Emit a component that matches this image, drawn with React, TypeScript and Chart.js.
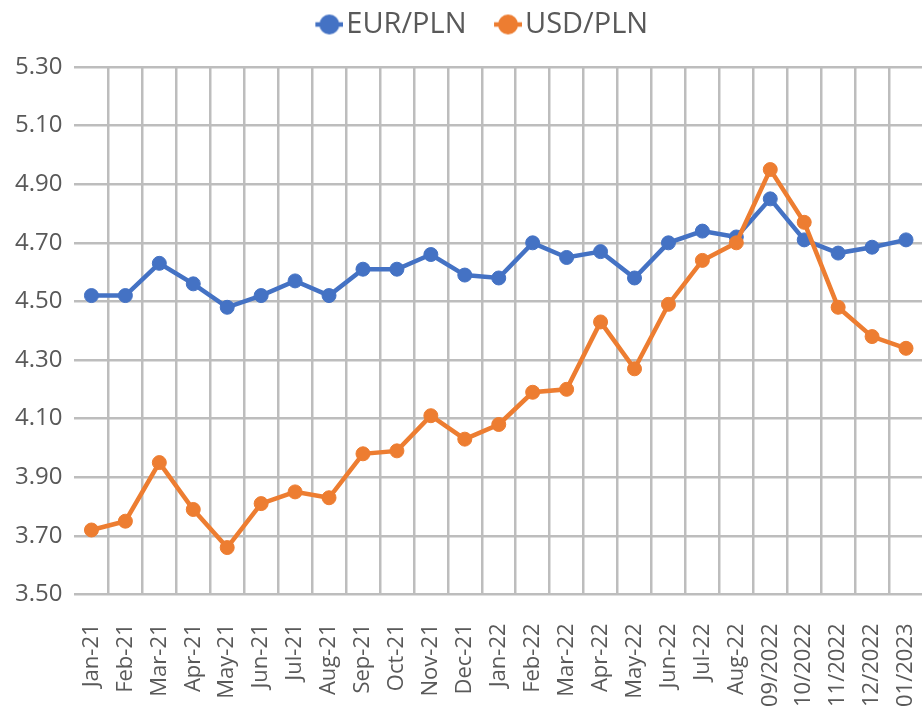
import React, { useEffect, useRef } from 'react';
import { Chart, registerables } from 'chart.js';

Chart.register(...registerables);

const categories = [
  'Jan-21', 'Feb-21', 'Mar-21', 'Apr-21', 'May-21', 'Jun-21', 'Jul-21', 'Aug-21',
  'Sep-21', 'Oct-21', 'Nov-21', 'Dec-21', 'Jan-22', 'Feb-22', 'Mar-22', 'Apr-22',
  'May-22', 'Jun-22', 'Jul-22', 'Aug-22', '09/2022', '10/2022', '11/2022', '12/2022', '01/2023',
];

const eurPln = [
  4.52, 4.52, 4.63, 4.56, 4.48, 4.52, 4.57, 4.52, 4.61, 4.61, 4.66, 4.59, 4.58,
  4.70, 4.65, 4.67, 4.58, 4.70, 4.74, 4.72, 4.85, 4.71, 4.665, 4.685, 4.71,
];

const usdPln = [
  3.72, 3.75, 3.95, 3.79, 3.66, 3.81, 3.85, 3.83, 3.98, 3.99, 4.11, 4.03, 4.08,
  4.19, 4.20, 4.43, 4.27, 4.49, 4.64, 4.70, 4.95, 4.77, 4.48, 4.38, 4.34,
];

const seriesLabels = ['EUR/PLN', 'USD/PLN'];
const yMin = 3.5;
const yMax = 5.3;
const yStep = 0.2;

const BLUE = '#4472C4';
const ORANGE = '#ED7D31';
const GRID = '#bdbdbd';
const TEXT = '#595959';
const FONT = "'Open Sans', 'Noto Sans', sans-serif";

const LEGEND_BOX_W = 30;
const LEGEND_IMG_W = 53;

function makeMarker(color: string): HTMLCanvasElement {
  // transparent image; the visible marker (28px) sits at its right end
  const c = document.createElement('canvas');
  c.width = LEGEND_IMG_W;
  c.height = 24;
  const g = c.getContext('2d')!;
  const x0 = LEGEND_IMG_W - 28;
  g.strokeStyle = color;
  g.lineWidth = 4.5;
  g.beginPath();
  g.moveTo(x0, 12);
  g.lineTo(x0 + 28, 12);
  g.stroke();
  g.fillStyle = color;
  g.beginPath();
  g.arc(x0 + 14, 12, 10, 0, Math.PI * 2);
  g.fill();
  return c;
}

export default function App() {
  const ref = useRef<HTMLCanvasElement>(null);

  useEffect(() => {
    if (!ref.current) return;
    const markers = [makeMarker(BLUE), makeMarker(ORANGE)];
    const colors = [BLUE, ORANGE];

    const shiftLegend = {
      id: 'shiftLegend',
      afterLayout(chart: any) {
        const lg = chart.legend;
        if (lg) {
          lg.left += 12;
          lg.right += 12;
          lg.top -= 18;
          lg.bottom -= 18;
        }
      },
    };

    const chart = new Chart(ref.current, {
      type: 'line',
      data: {
        labels: categories,
        datasets: [
          {
            label: seriesLabels[0],
            data: eurPln,
            borderColor: BLUE,
            backgroundColor: BLUE,
            borderWidth: 4.5,
            pointRadius: 7,
            pointBorderWidth: 1,
            pointBackgroundColor: BLUE,
            pointBorderColor: BLUE,
            tension: 0,
            order: 2,
          },
          {
            label: seriesLabels[1],
            data: usdPln,
            borderColor: ORANGE,
            backgroundColor: ORANGE,
            borderWidth: 4.5,
            pointRadius: 7,
            pointBorderWidth: 1,
            pointBackgroundColor: ORANGE,
            pointBorderColor: ORANGE,
            tension: 0,
            order: 1,
          },
        ],
      },
      options: {
        animation: false,
        responsive: true,
        maintainAspectRatio: false,
        layout: { autoPadding: false, padding: { left: 3, right: 1, top: 14, bottom: 7 } },
        plugins: {
          tooltip: { enabled: false },
          legend: {
            position: 'top',
            labels: {
              usePointStyle: true,
              pointStyleWidth: LEGEND_BOX_W,
              boxHeight: 24,
              padding: 14,
              color: TEXT,
              font: { family: FONT, size: 29 },
              generateLabels: () =>
                seriesLabels.map((t, i) => ({
                  text: t,
                  pointStyle: markers[i] as any,
                  fillStyle: colors[i],
                  strokeStyle: colors[i],
                  lineWidth: 0,
                  hidden: false,
                  datasetIndex: i,
                  fontColor: TEXT,
                })),
            },
          },
        },
        scales: {
          x: {
            offset: true,
            border: { display: false },
            afterFit: (s: any) => {
              s.paddingLeft = 0;
              s.paddingRight = 0;
              s.height = s.height - s.options.ticks.padding;
            },
            grid: {
              offset: true,
              drawTicks: false,
              lineWidth: 2.5,
              color: (ctx: any) => (ctx.index === 0 ? 'rgba(0,0,0,0)' : GRID),
            },
            ticks: {
              autoSkip: false,
              maxRotation: 90,
              minRotation: 90,
              padding: 29,
              color: TEXT,
              font: { family: FONT, size: 22 },
            },
          },
          y: {
            min: yMin,
            max: yMax,
            border: { display: false },
            grid: { drawTicks: false, lineWidth: 2.5, color: GRID },
            ticks: {
              stepSize: yStep,
              padding: 12,
              color: TEXT,
              font: { family: FONT, size: 24 },
              callback: (v: any) => Number(v).toFixed(2),
            },
          },
        },
      },
      plugins: [shiftLegend],
    });

    return () => chart.destroy();
  }, []);

  return (
    <div style={{ position: 'fixed', left: 0, top: 0, width: 924, height: 714 }}>
      <canvas ref={ref} />
    </div>
  );
}
